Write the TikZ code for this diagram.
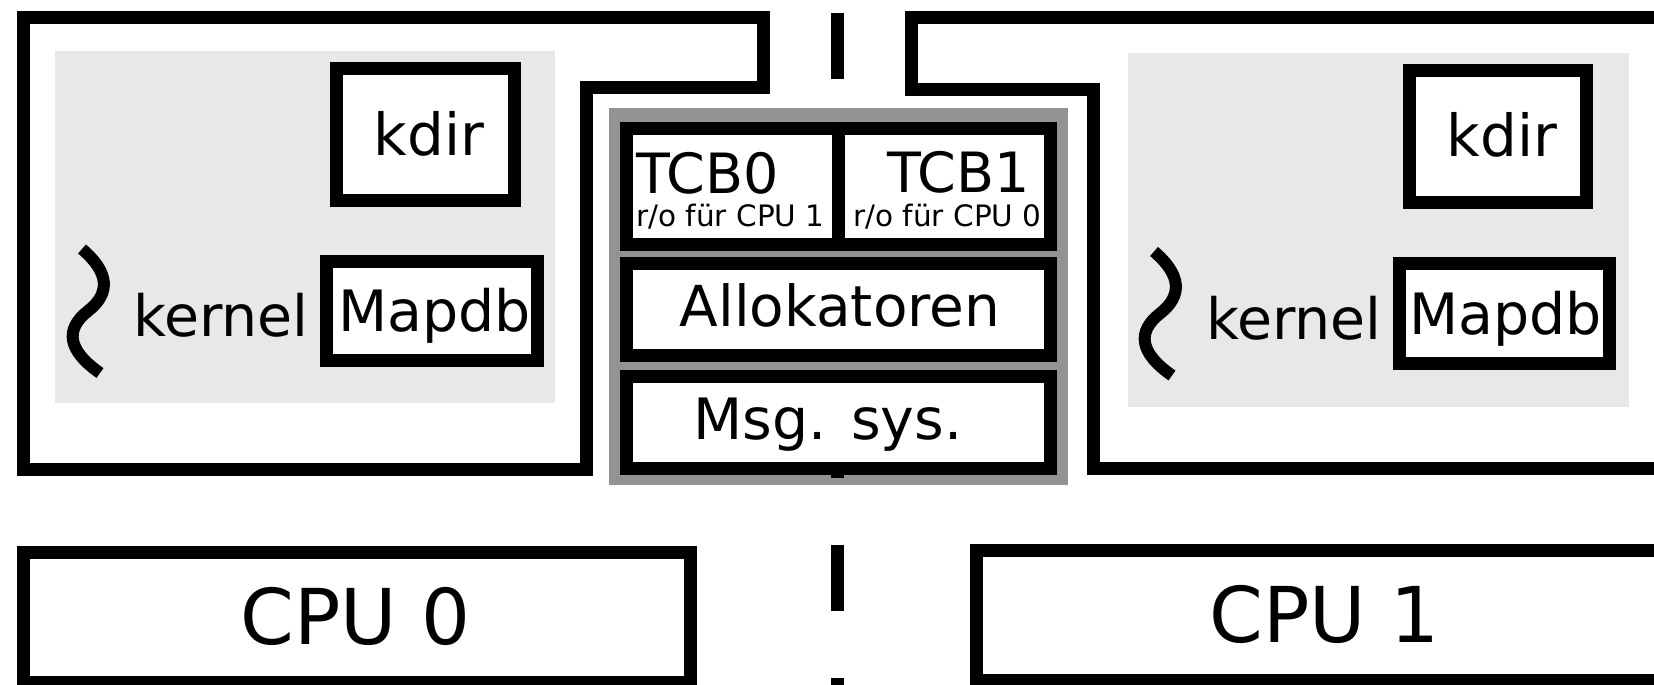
\documentclass[tikz,border=0pt]{standalone}
\usepackage{fontspec}
\setmainfont{DejaVu Sans}
\definecolor{panelgray}{HTML}{E8E8E8}
\definecolor{sharedgray}{HTML}{939393}
\tikzset{
  frameline/.style={line width=13pt, line join=miter, line cap=butt},
  panel/.style={rectangle, fill=panelgray, draw=none, inner sep=0pt, outer sep=0pt},
  sharedbg/.style={rectangle, fill=sharedgray, draw=none, inner sep=0pt, outer sep=0pt},
  boxnode/.style={rectangle, draw=black, fill=white, line width=13pt, inner sep=0pt, outer sep=0pt},
  lbl/.style={inner sep=0pt, outer sep=0pt, anchor=base},
  bigtxt/.style={font=\fontsize{57}{60}\selectfont},
  kdirtxt/.style={font=\fontsize{58}{60}\selectfont},
  tcbtxt/.style={font=\fontsize{55.5}{58}\selectfont},
  smalltxt/.style={font=\fontsize{29.5}{32}\selectfont},
  cputxt/.style={font=\fontsize{77}{80}\selectfont},
  squig/.style={line width=12pt, line cap=butt},
  sepline/.style={line width=13pt, line cap=butt, dash pattern=on 66.5pt off 66.5pt},
}
\begin{document}
\begin{tikzpicture}[x=1pt, y=-1pt]
  \useasboundingbox (0,0) rectangle (1654,685);
  \clip (0,0) rectangle (1654,685);

  % ---------- address space of CPU 0 ----------
  \draw[frameline] (23.3,18) -- (763.7,18) -- (763.7,87.7) -- (586,87.7)
        -- (586,469) -- (23.3,469) -- cycle;
  \node[panel, minimum width=500pt, minimum height=352pt] (panelL) at (305,227) {};
  \node[boxnode, minimum width=177.5pt, minimum height=132.6pt] (kdirL) at (425.25,134.5) {};
  \node[boxnode, minimum width=210.5pt, minimum height=98.7pt] (mapL) at (431.75,310.85) {};
  \node[lbl, kdirtxt] (kdirLt) at (429,155) {kdir};
  \node[lbl, bigtxt] (mapLt) at (434.5,331.7) {Mapdb};
  \node[lbl, bigtxt] (kernL) at (221,336.7) {kernel};
  \draw[squig] (82,249) .. controls (109,272) and (111,293) .. (88,311)
        .. controls (65,329) and (67,350) .. (100,373);

  % ---------- address space of CPU 1 ----------
  \draw[frameline] (1680,18) -- (911.7,18) -- (911.7,89.7) -- (1093.3,89.7)
        -- (1093.3,468) -- (1680,468);
  \node[panel, minimum width=500.6pt, minimum height=353.7pt] (panelR) at (1378.3,229.85) {};
  \node[boxnode, minimum width=177pt, minimum height=132pt] (kdirR) at (1498.3,136.8) {};
  \node[boxnode, minimum width=210pt, minimum height=99.7pt] (mapR) at (1504.8,313.65) {};
  \node[lbl, kdirtxt] (kdirRt) at (1502,156.7) {kdir};
  \node[lbl, bigtxt] (mapRt) at (1505.5,334) {Mapdb};
  \node[lbl, bigtxt] (kernR) at (1294,339) {kernel};
  \begin{scope}[shift={(1072,2.5)}]
    \draw[squig] (82,249) .. controls (109,272) and (111,293) .. (88,311)
          .. controls (65,329) and (67,350) .. (100,373);
  \end{scope}

  % ---------- shared kernel memory ----------
  \node[sharedbg, minimum width=459.5pt, minimum height=376.7pt] (shared) at (838.25,296.65) {};

  % separator between the two CPUs
  \coordinate (sepTop) at (837.5,12.7);
  \coordinate (sepBot) at (837.5,720);
  \draw[sepline] (sepTop) -- (sepBot);

  \node[boxnode, minimum width=424.4pt, minimum height=116pt] (tcb) at (838.5,186.4) {};
  \draw[line width=13pt] (tcb.north) -- (tcb.south);
  \node[boxnode, minimum width=424.4pt, minimum height=91.6pt] (alloc) at (838.5,309.2) {};
  \node[boxnode, minimum width=424.4pt, minimum height=91.6pt] (msg) at (838.5,422.5) {};

  \node[lbl, tcbtxt, anchor=base west] (tcb0) at (636,193.3) {TCB0};
  \node[lbl, tcbtxt] (tcb1) at (958.5,192.7) {TCB1};
  \node[lbl, smalltxt] (ro0) at (730.5,226.7) {r/o für CPU 1};
  \node[lbl, smalltxt] (ro1) at (947.5,226.7) {r/o für CPU 0};
  \node[lbl, font=\fontsize{56.5}{60}\selectfont] (alloct) at (840,326) {Allokatoren};
  \node[lbl, bigtxt] (msgt) at (828,439.3) {Msg. sys.};

  % ---------- processors ----------
  \node[boxnode, minimum width=666.7pt, minimum height=130pt] (cpu0) at (356.65,617) {};
  \node[boxnode, minimum width=743.3pt, minimum height=130pt] (cpu1) at (1348.35,615) {};
  \node[lbl, cputxt] (cpu0t) at (355.5,644) {CPU 0};
  \node[lbl, cputxt] (cpu1t) at (1324.5,642.7) {CPU 1};
\end{tikzpicture}
\end{document}
